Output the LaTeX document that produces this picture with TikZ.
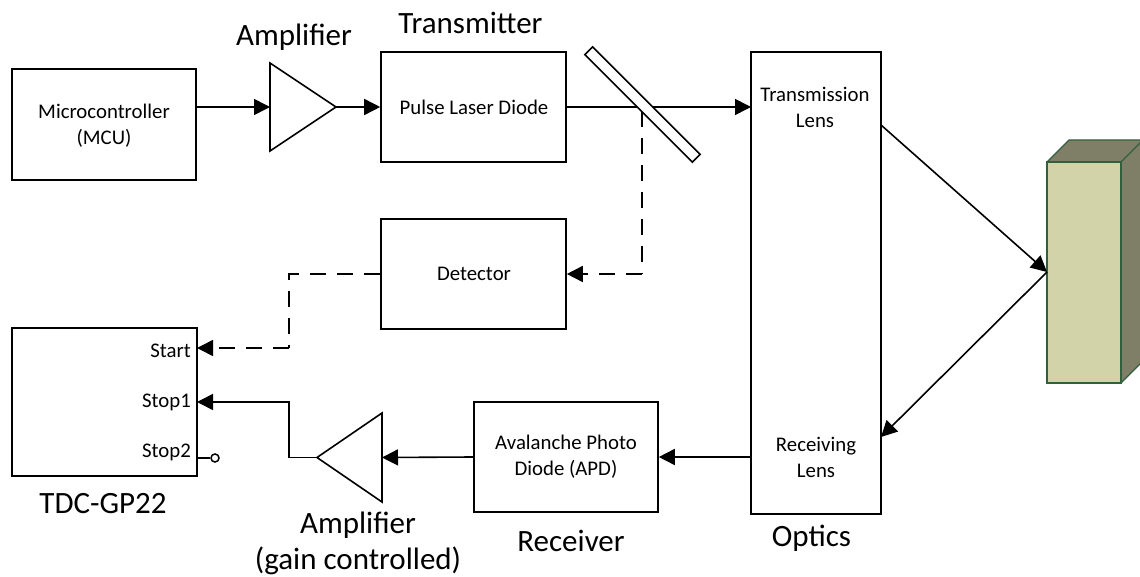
\documentclass[tikz,border=0pt]{standalone}
\usepackage{fontspec}
\setmainfont{Carlito}
\usetikzlibrary{arrows.meta,shapes.geometric}
\definecolor{blockfront}{RGB}{211,211,170}
\definecolor{blockside}{RGB}{127,127,103}
\definecolor{blockedge}{RGB}{49,96,63}
\tikzset{
  wire/.style={line width=1.6pt,-{Triangle[length=16pt,width=16pt]}},
  dashwire/.style={line width=1.6pt,dash pattern=on 16pt off 11pt},
  dashtip/.style={dashwire,-{Triangle[length=16pt,width=16pt]}},
  blockbox/.style={draw,line width=1.6pt,fill=white,inner sep=0pt,align=center},
  amptri/.style={draw,line width=1.6pt,fill=white,isosceles triangle,isosceles triangle stretches,inner sep=0pt,outer sep=0pt},
  small/.style={inner sep=0pt,align=center,font=\fontsize{20.8}{26}\selectfont},
  big/.style={inner sep=0pt,align=center,font=\fontsize{31}{36}\selectfont},
  blockface/.style={draw=blockedge,line width=1.2pt,line join=round}
}
\begin{document}
\begin{tikzpicture}[x=1pt,y=-1pt]
\useasboundingbox (0,0) rectangle (1140,577);
% target block
\begin{scope}
\clip (0,0) rectangle (1140,577);
\fill[blockside] (1047,162) -- (1069,140) -- (1143,140) -- (1143,361) -- (1121,383) -- (1121,162) -- cycle;
\draw[blockface] (1047,162) -- (1069,140) -- (1143,140) (1143,140) -- (1121,162) (1121,383) -- (1143,361);
\node[draw=blockedge,line width=1.2pt,fill=blockfront,minimum width=74pt,minimum height=221pt,inner sep=0pt] (target) at (1084,272.5) {};
\end{scope}
% boxes
\node[blockbox,minimum width=184pt,minimum height=111pt] (mcu) at (104,124.5) {};
\node[blockbox,minimum width=185pt,minimum height=110pt] (tx) at (473.5,107) {};
\node[blockbox,minimum width=185pt,minimum height=110pt] (det) at (473.5,274) {};
\node[blockbox,minimum width=185pt,minimum height=148pt] (tdc) at (104.5,402) {};
\node[blockbox,minimum width=184pt,minimum height=110pt] (apd) at (566,457) {};
\node[blockbox,minimum width=130pt,minimum height=462pt] (optics) at (816,283) {};
% amplifiers
\node[amptri,minimum height=66pt,minimum width=88pt,anchor=lower side] (amp1) at (270,107) {};
\node[amptri,minimum height=65pt,minimum width=89pt,shape border rotate=180,anchor=lower side] (amp2) at (382,457.5) {};
% reference points
\coordinate (split) at (642,111);
\coordinate (detin) at (642,274);
\coordinate (lensout) at (881,125);
\coordinate (lensin) at (881,437);
\coordinate (hit) at (1047,272);
\coordinate (startpin) at (197,348);
\coordinate (stoppin) at (197,402);
\coordinate (stop2pin) at (197,458);
\coordinate (txin) at (751,107);
\coordinate (ampel) at (289,457.5);
\coordinate (detel) at (289,274);
% connectors
\draw[wire] (mcu.east |- amp1.lower side) -- (amp1.lower side);
\draw[wire] (amp1.apex) -- (tx.west |- amp1.apex);
\draw[wire] (tx.east |- txin) -- (txin);
\draw[dashwire] (split) -- (detin);
\draw[dashtip] (detin) -- (det.east |- detin);
\draw[dashwire] (det.west) -- (detel) -- (detel |- startpin);
\draw[dashtip] (detel |- startpin) -- (startpin);
\draw[wire] (lensout) -- (hit);
\draw[wire] (hit) -- (lensin);
\draw[wire] (optics.west |- apd.east) -- (apd.east);
\draw[wire] (apd.west) -- (amp2.lower side);
\draw[wire] (amp2.apex) -- (ampel) -- (ampel |- stoppin) -- (stoppin);
\node[draw,circle,line width=1.5pt,fill=white,minimum size=8pt,inner sep=0pt] (stopend) at (215,458) {};
\draw[line width=1.2pt] (stop2pin) -- (stopend);
% beam splitter
\node[draw,line width=1.6pt,fill=white,minimum width=152pt,minimum height=11pt,inner sep=0pt,rotate=-45] (mirror) at (642.5,104.5) {};
% inner text
\node[small] (tmcu) at (104,126) {Microcontroller\\(MCU)};
\node[small] (ttx) at (474,107) {Pulse Laser Diode};
\node[small] (tdet) at (474,274) {Detector};
\node[small] (tapd) at (566,457) {Avalanche Photo\\Diode (APD)};
\node[small] (ttl) at (815,107) {Transmission\\Lens};
\node[small] (trl) at (816,457) {Receiving\\Lens};
\node[small,anchor=east] (tstart) at (191,351) {Start};
\node[small,anchor=east] (tstop1) at (191,402) {Stop1};
\node[small,anchor=east] (tstop2) at (191,452) {Stop2};
% captions
\node[big] (cap1) at (294,37) {Amplifier};
\node[big] (cap2) at (470.5,23) {Transmitter};
\node[big] (cap3) at (103,504) {TDC-GP22};
\node[big] (cap4) at (358,543.5) {Amplifier\\(gain controlled)};
\node[big] (cap5) at (571,541) {Receiver};
\node[big] (cap6) at (811.5,538) {Optics};
\end{tikzpicture}
\end{document}
